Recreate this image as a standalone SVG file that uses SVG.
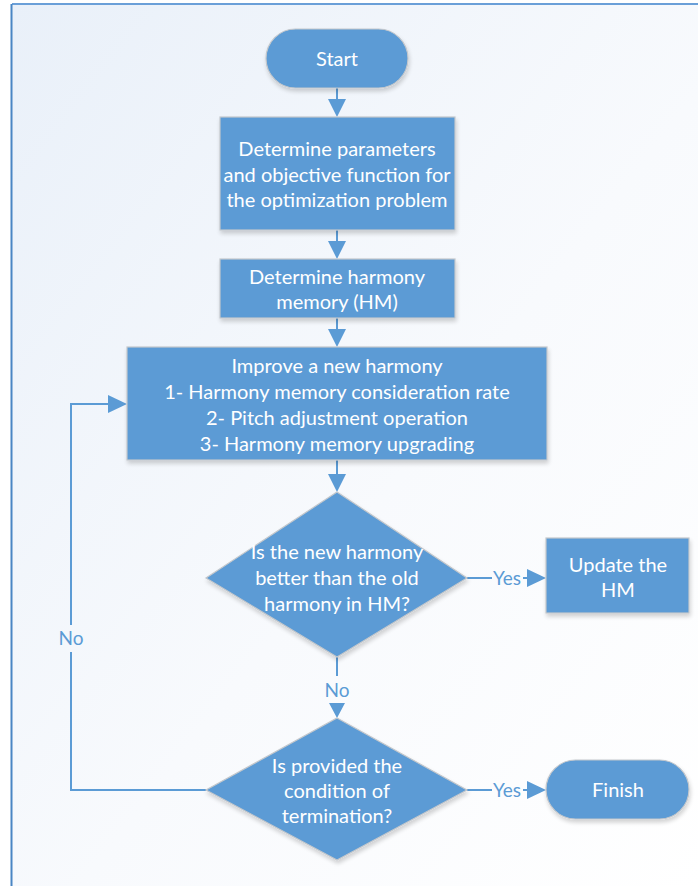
<svg xmlns="http://www.w3.org/2000/svg" width="698" height="886" viewBox="0 0 698 886">
<defs>
<linearGradient id="bg" x1="0" y1="0" x2="1" y2="1">
<stop offset="0" stop-color="#e9f0f9"/>
<stop offset="0.55" stop-color="#f8fafd"/>
<stop offset="1" stop-color="#ffffff"/>
</linearGradient>
<filter id="sh" x="-10%" y="-10%" width="130%" height="130%">
<feGaussianBlur in="SourceAlpha" stdDeviation="2"/>
<feOffset dx="1" dy="3" result="b"/>
<feComponentTransfer><feFuncA type="linear" slope="0.18"/></feComponentTransfer>
<feMerge><feMergeNode/><feMergeNode in="SourceGraphic"/></feMerge>
</filter>
</defs>
<style>
.shape{fill:#5b9bd5;stroke:#c3c7cc;stroke-width:1.2;filter:url(#sh)}
.t{font-family:Lato,"Open Sans","Liberation Sans",sans-serif;font-size:20px;fill:#ffffff;text-anchor:middle}
.lbl{font-family:Lato,"Open Sans","Liberation Sans",sans-serif;font-size:19px;fill:#5b9bd5;text-anchor:middle}
.c{fill:none;stroke:#5b9bd5;stroke-width:2}
.head{fill:#5b9bd5}
</style>
<rect x="0" y="0" width="698" height="886" fill="#ffffff"/>
<rect x="12" y="5" width="686" height="881" fill="url(#bg)"/>
<line x1="12" y1="4" x2="698" y2="4" stroke="#6a9fd8" stroke-width="2"/>
<line x1="11.5" y1="4" x2="11.5" y2="886" stroke="#4a86c4" stroke-width="2"/>

<g id="connectors">
<line class="c" x1="337" y1="88" x2="337" y2="100"/>
<polygon class="head" points="328,99 346,99 337,117"/>
<line class="c" x1="337" y1="230" x2="337" y2="242"/>
<polygon class="head" points="328,241 346,241 337,259"/>
<line class="c" x1="337" y1="318" x2="337" y2="330"/>
<polygon class="head" points="328,329 346,329 337,347"/>
<line class="c" x1="337" y1="460" x2="337" y2="475"/>
<polygon class="head" points="328,474 346,474 337,492"/>
<line class="c" x1="467" y1="578" x2="492" y2="578"/>
<line class="c" x1="523" y1="578" x2="528" y2="578"/>
<polygon class="head" points="527,569 527,587 546,578"/>
<line class="c" x1="337" y1="657" x2="337" y2="676"/>
<polygon class="head" points="329,703 345,703 337,718"/>
<line class="c" x1="467" y1="790" x2="492" y2="790"/>
<line class="c" x1="523" y1="790" x2="528" y2="790"/>
<polygon class="head" points="527,781 527,799 546,790"/>
<polyline class="c" points="206,790 71,790 71,652"/>
<polyline class="c" points="71,625 71,404 110,404"/>
<polygon class="head" points="108,395 108,413 127,404"/>
<text class="lbl" x="507" y="585">Yes</text>
<text class="lbl" x="337" y="697">No</text>
<text class="lbl" x="507" y="797">Yes</text>
<text class="lbl" x="71" y="645">No</text>
</g>

<g id="start">
<rect class="shape" x="266" y="29" width="142" height="59" rx="29.5"/>
<text class="t" x="337" y="66">Start</text>
</g>
<g id="params">
<rect class="shape" x="220" y="117" width="235" height="113"/>
<text class="t" x="337" y="156">Determine parameters</text>
<text class="t" x="337" y="182">and objective function for</text>
<text class="t" x="337" y="207">the optimization problem</text>
</g>
<g id="hm">
<rect class="shape" x="220" y="259" width="235" height="59"/>
<text class="t" x="337" y="284">Determine harmony</text>
<text class="t" x="337" y="309">memory (HM)</text>
</g>
<g id="improve">
<rect class="shape" x="127" y="347" width="420" height="113"/>
<text class="t" x="337" y="373">Improve a new harmony</text>
<text class="t" x="337" y="399">1- Harmony memory consideration rate</text>
<text class="t" x="337" y="425">2- Pitch adjustment operation</text>
<text class="t" x="337" y="451">3- Harmony memory upgrading</text>
</g>
<g id="better">
<polygon class="shape" points="337,492 467,578 337,657 206,578"/>
<text class="t" x="337" y="559">Is the new harmony</text>
<text class="t" x="337" y="585">better than the old</text>
<text class="t" x="337" y="611">harmony in HM?</text>
</g>
<g id="update">
<rect class="shape" x="546" y="538" width="143" height="75"/>
<text class="t" x="618" y="572">Update the</text>
<text class="t" x="618" y="597">HM</text>
</g>
<g id="terminate">
<polygon class="shape" points="337,718 467,790 337,860 206,790"/>
<text class="t" x="337" y="773">Is provided the</text>
<text class="t" x="337" y="798">condition of</text>
<text class="t" x="337" y="823">termination?</text>
</g>
<g id="finish">
<rect class="shape" x="546" y="760" width="143" height="59" rx="29.5"/>
<text class="t" x="618" y="797">Finish</text>
</g>
</svg>
